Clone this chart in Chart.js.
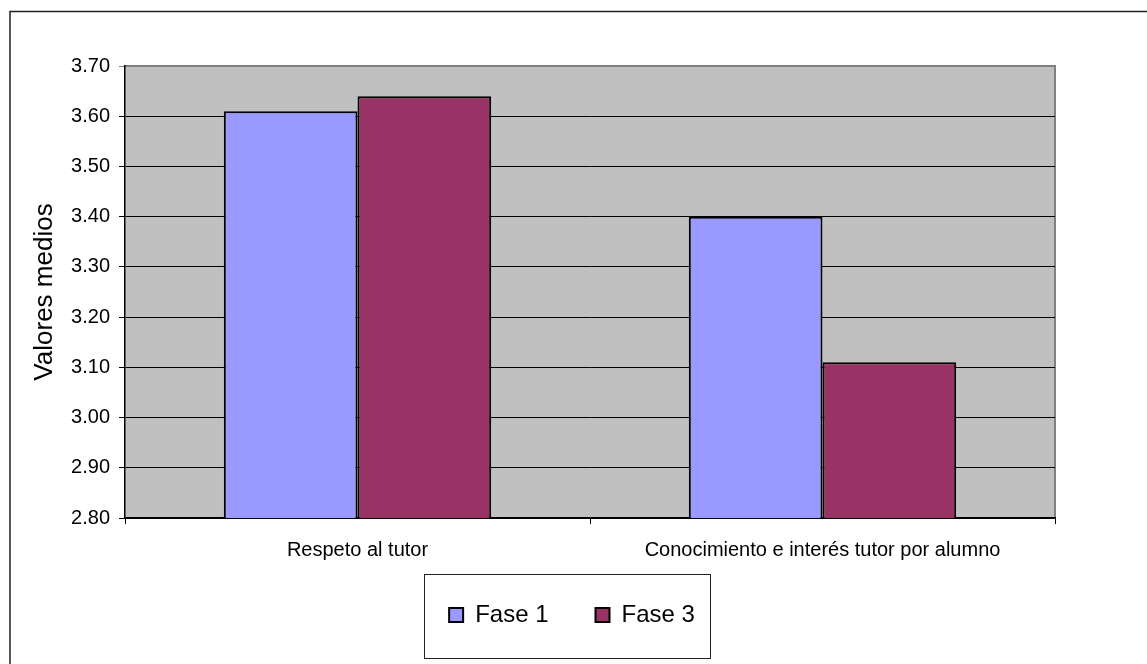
<!DOCTYPE html>
<html lang="es">
<head>
<meta charset="UTF-8">
<title>Valores medios</title>
<script src="https://cdn.jsdelivr.net/npm/chart.js"></script>
<style>
  html, body { margin: 0; padding: 0; background: #fff; }
  #wrap { width: 1147px; height: 664px; position: relative; }
</style>
</head>
<body>
<div id="wrap"><canvas id="grafico"></canvas></div>
<script>
const categorias = ["Respeto al tutor", "Conocimiento e interés tutor por alumno"];
const series = ["Fase 1", "Fase 3"];
const fase1 = [3.61, 3.40];
const fase3 = [3.64, 3.11];
const colores = ["#9999FF", "#993366"];
const ejeMin = 2.8, ejeMax = 3.7, paso = 0.1;

const fuente = "'Liberation Sans', Arial, sans-serif";

// fondo gris del area, marco exterior y recuadro de la leyenda
const marco = {
    id: 'marco',
    afterLayout(chart) {
        // la leyenda de Excel no queda centrada respecto al area
        const lg = chart.legend;
        lg.left += 32;
        lg.right += 32;
        lg.top -= 8;
        lg.bottom -= 8;
    },
    beforeDraw(chart) {
        const { ctx, chartArea: a } = chart;
        ctx.save();
        ctx.fillStyle = '#fff';
        ctx.fillRect(0, 0, chart.width, chart.height);
        ctx.strokeStyle = '#222';
        ctx.lineWidth = 1.5;
        ctx.strokeRect(10, 11.5, chart.width + 20, chart.height + 20);
        ctx.fillStyle = '#C0C0C0';
        ctx.fillRect(a.left, a.top, a.right - a.left, a.bottom - a.top);
        ctx.strokeStyle = '#808080';
        ctx.lineWidth = 2;
        ctx.beginPath();
        ctx.moveTo(a.left, a.top);
        ctx.lineTo(a.right, a.top);
        ctx.lineTo(a.right, a.bottom);
        ctx.stroke();
        ctx.restore();
    },
    afterDraw(chart) {
        const cajas = chart.legend.legendHitBoxes;
        if (!cajas || !cajas.length) return;
        const izq = Math.min(...cajas.map(c => c.left)) - 25;
        const der = Math.max(...cajas.map(c => c.left + c.width)) + 15;
        const arr = Math.min(...cajas.map(c => c.top)) - 29;
        const abj = Math.max(...cajas.map(c => c.top + c.height)) + 31;
        const ctx = chart.ctx;
        ctx.save();
        ctx.strokeStyle = '#222';
        ctx.lineWidth = 1;
        ctx.strokeRect(Math.round(izq) + 0.5, Math.round(arr) + 0.5, Math.round(der - izq), Math.round(abj - arr));
        ctx.restore();
    }
};

new Chart(document.getElementById('grafico'), {
    type: 'bar',
    data: {
        labels: categorias,
        datasets: [
            { label: series[0], data: fase1, backgroundColor: colores[0] },
            { label: series[1], data: fase3, backgroundColor: colores[1] }
        ].map(d => Object.assign(d, {
            borderColor: '#000',
            borderWidth: 2,
            borderSkipped: false,
            barPercentage: 1,
            categoryPercentage: 0.575
        }))
    },
    options: {
        responsive: true,
        maintainAspectRatio: false,
        animation: false,
        layout: { padding: { top: 66, right: 92, left: 25, bottom: 19 } },
        plugins: {
            tooltip: { enabled: false },
            legend: {
                position: 'bottom',
                labels: {
                    boxWidth: 14,
                    boxHeight: 14,
                    padding: 47,
                    color: '#000',
                    font: { family: fuente, size: 24 }
                }
            }
        },
        scales: {
            x: {
                grid: { drawOnChartArea: false, drawTicks: true, tickLength: 6, offset: true, color: '#000' },
                border: { color: '#000', width: 1.5 },
                ticks: { color: '#000', font: { family: fuente, size: 20 }, padding: 14, maxRotation: 0 },
                afterFit(s) { s.height = 46; }
            },
            y: {
                min: ejeMin,
                max: ejeMax,
                ticks: {
                    stepSize: paso,
                    color: '#000',
                    padding: 9,
                    font: { family: fuente, size: 20 },
                    callback: v => Number(v).toFixed(2)
                },
                grid: {
                    color: c => (c.tick && Math.abs(c.tick.value - ejeMax) < 1e-6) ? '#808080' : '#000',
                    lineWidth: 1,
                    tickLength: 6
                },
                border: { color: '#000', width: 1.5 },
                title: {
                    display: true,
                    text: 'Valores medios',
                    color: '#000',
                    font: { family: fuente, size: 26 }
                },
                afterFit(s) { s.width = 125 - 25; }
            }
        }
    },
    plugins: [marco]
});
</script>
</body>
</html>
